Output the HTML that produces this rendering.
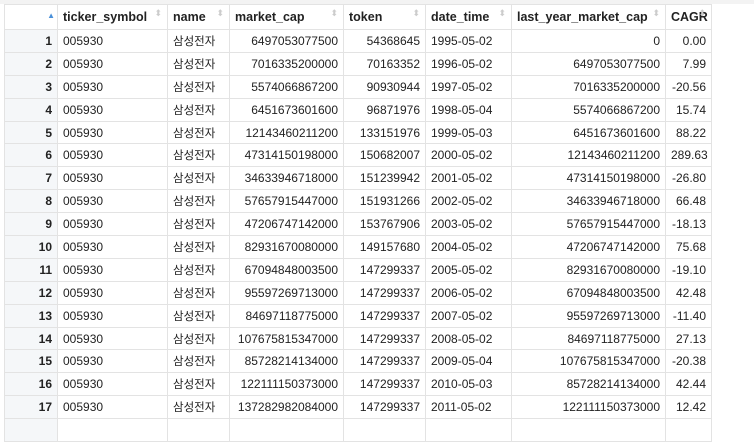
<!DOCTYPE html>
<html><head><meta charset="utf-8"><style>
html,body{margin:0;padding:0;background:#fff;width:754px;height:425px;overflow:hidden}
body{font-family:"Liberation Sans","Noto Sans CJK KR",sans-serif;font-size:12px;color:#222}
.top{position:absolute;left:0;top:0;width:754px;height:4px;background:#f3f3f3}
table{position:absolute;left:4px;top:4px;border-collapse:collapse;table-layout:fixed;width:707px}
td,th{border:1px solid #e3e3e3;padding:0 5px;white-space:nowrap;overflow:visible;box-sizing:border-box}
th{height:25px;text-align:left;font-weight:bold;font-size:12.5px;position:relative;color:#222;overflow:hidden}
th:after{content:"⬍";position:absolute;right:5px;top:3px;font-size:9px;color:#ccc;font-weight:normal}
th.idx:after{content:"▲";color:#4a90d9;font-size:8px;right:2px;top:6px}
td{height:22.9px;text-align:right}
td.l{text-align:left}
td.k{text-align:left;font-size:11.5px}
td.i{background:#f5f7f9;font-weight:bold;text-align:right}
</style></head><body>
<div class="top"></div>
<table>
<colgroup><col style="width:53px"><col style="width:110px"><col style="width:62px"><col style="width:114px"><col style="width:82px"><col style="width:86px"><col style="width:154px"><col style="width:46px"></colgroup>
<thead><tr>
<th class="idx"></th>
<th>ticker_symbol</th>
<th>name</th>
<th>market_cap</th>
<th>token</th>
<th>date_time</th>
<th>last_year_market_cap</th>
<th>CAGR</th>
</tr></thead>
<tbody id="tb"></tbody></table>
<script>
const rows=[
["6497053077500","54368645","1995-05-02","0","0.00"],
["7016335200000","70163352","1996-05-02","6497053077500","7.99"],
["5574066867200","90930944","1997-05-02","7016335200000","-20.56"],
["6451673601600","96871976","1998-05-04","5574066867200","15.74"],
["12143460211200","133151976","1999-05-03","6451673601600","88.22"],
["47314150198000","150682007","2000-05-02","12143460211200","289.63"],
["34633946718000","151239942","2001-05-02","47314150198000","-26.80"],
["57657915447000","151931266","2002-05-02","34633946718000","66.48"],
["47206747142000","153767906","2003-05-02","57657915447000","-18.13"],
["82931670080000","149157680","2004-05-02","47206747142000","75.68"],
["67094848003500","147299337","2005-05-02","82931670080000","-19.10"],
["95597269713000","147299337","2006-05-02","67094848003500","42.48"],
["84697118775000","147299337","2007-05-02","95597269713000","-11.40"],
["107675815347000","147299337","2008-05-02","84697118775000","27.13"],
["85728214134000","147299337","2009-05-04","107675815347000","-20.38"],
["122111150373000","147299337","2010-05-03","85728214134000","42.44"],
["137282982084000","147299337","2011-05-02","122111150373000","12.42"],
["","","","",""]];
const tb=document.getElementById('tb');
rows.forEach((r,i)=>{
const tr=document.createElement('tr');


const last=r[0]==='';
const cells=[[last?'':String(i+1),'i'],[last?'':'005930','l'],[last?'':'삼성전자','k'],[r[0],''],[r[1],''],[r[2],'l'],[r[3],''],[r[4],'']];
cells.forEach(c=>{const td=document.createElement('td');td.textContent=c[0];if(c[1])td.className=c[1];


tr.appendChild(td);});
tb.appendChild(tr);});
</script>
</body></html>
